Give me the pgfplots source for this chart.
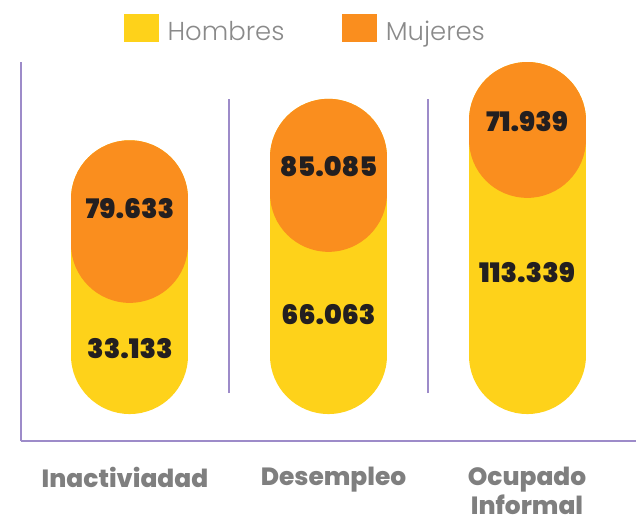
\documentclass[border=0pt]{standalone}
\usepackage{fontspec}
\setmainfont{Poppins}
\newfontfamily\poplight{Poppins}[UprightFont=* Light]
\newfontfamily\popxb{Poppins}[UprightFont=* ExtraBold]
\newfontfamily\popblk{Poppins}[UprightFont=* Black]
\usepackage{pgfplots}
\usepackage{pgfplotstable}
\pgfplotsset{compat=1.18}
\definecolor{yel}{HTML}{FED21A}
\definecolor{ora}{HTML}{FA8E1E}
\definecolor{axp}{HTML}{9D8BC9}
\definecolor{leggray}{HTML}{8A8A8A}
\definecolor{catgray}{HTML}{7F7F7F}
\definecolor{labdark}{HTML}{231F20}
% x: category index; hom, muj: values; obot: lower edge of orange pill; lh, lm: label heights
\pgfplotstableread{
x hom muj obot lh lm
0 33.133 79.633 -37.9 -80.6 49.8
1 66.063 85.085 9.4 -48.5 88.7
2 113.339 71.939 59.4 -9.4 130.4
}\data
\begin{document}
\begin{tikzpicture}
\useasboundingbox (0,0) rectangle (636bp,523bp);
\begin{axis}[
  at={(21bp,82bp)}, anchor=south west,
  scale only axis, width=615bp, height=379bp,
  xmin=-0.549, xmax=2.549, ymin=-165.9, ymax=185.3,
  clip=false,
  axis x line*=bottom, axis y line*=left,
  axis line style={-, draw=axp, line width=2.2bp},
  xtick={0,1,2}, ytick=\empty,
  xticklabels={Inactiviadad\hspace*{10bp},\hspace*{10bp}Desempleo,{Ocupado\\Informal}},
  major tick length=0pt,
  xticklabel style={align=center, inner sep=0pt, yshift=-26bp, text=catgray, font=\popxb\fontsize{25}{29}\selectfont},
  legend columns=2,
  legend style={at={(0.1675,1.0897)}, anchor=west, draw=none, fill=none, inner sep=0pt,
    font=\poplight\fontsize{26}{28}\selectfont, text=leggray,
    nodes={inner sep=0pt},
    /tikz/every odd column/.style={column sep=9bp},
    /tikz/every even column/.style={column sep=58bp}},
  legend entries={Hombres,Mujeres},
]
\addlegendimage{legend image code/.code={\fill[yel] (0bp,-8.7bp) rectangle (34bp,18.3bp);}}
\addlegendimage{legend image code/.code={\fill[ora] (0bp,-8.7bp) rectangle (34bp,18.3bp);}}
% separators
\addplot[draw=axp, line width=2.2bp] coordinates {(0.5,-121.5) (0.5,150.7)};
\addplot[draw=axp, line width=2.2bp] coordinates {(1.5,-121.5) (1.5,150.7)};
% yellow pills (Hombres): up to the total
\addplot[draw=yel, line width=117bp, line cap=round,
  quiver={u=0, v=\thisrow{hom}+\thisrow{muj}+32.5}] table[x=x, y expr=-86.7] {\data};
% orange pills (Mujeres)
\addplot[draw=ora, line width=117bp, line cap=round,
  quiver={u=0, v=\thisrow{hom}+\thisrow{muj}-\thisrow{obot}-108.4}] table[x=x, y expr=\thisrow{obot}+54.2] {\data};
% labels
\addplot[draw=none, nodes near coords, point meta=explicit symbolic,
  every node near coord/.style={anchor=center, inner sep=0pt, font=\popblk\fontsize{27}{27}\selectfont, text=labdark}]
  table[x=x, y=lh, meta=hom] {\data};
\addplot[draw=none, nodes near coords, point meta=explicit symbolic,
  every node near coord/.style={anchor=center, inner sep=0pt, font=\popblk\fontsize{27}{27}\selectfont, text=labdark}]
  table[x=x, y=lm, meta=muj] {\data};
\end{axis}
\end{tikzpicture}
\end{document}
